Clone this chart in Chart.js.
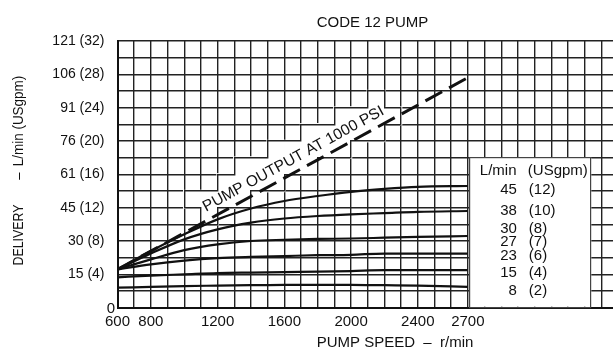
<!DOCTYPE html>
<html><head><meta charset="utf-8">
<script src="https://cdn.jsdelivr.net/npm/chart.js@4.4.1/dist/chart.umd.min.js"></script>
<style>html,body{margin:0;padding:0;background:#fff;overflow:hidden}#wrap{width:613px;height:349px;position:relative}</style>
</head><body><div id="wrap"><canvas id="c" width="613" height="349"></canvas></div>
<script>
// ---- data (USgpm vs r/min) ----
const speeds  = [600, 800, 1000, 1200, 1400, 1600, 1800, 2000, 2200, 2400, 2700];
const flow45  = [4.6, 6.8, 8.8, 10.6, 11.9, 12.8, 13.4, 13.9, 14.25, 14.5, 14.6];
const flow38  = [4.6, 6.5, 8.2, 9.4, 10.2, 10.7, 11.0, 11.2, 11.35, 11.5, 11.6];
const flow30  = [4.6, 5.8, 6.9, 7.6, 8.0, 8.15, 8.25, 8.3, 8.4, 8.5, 8.6];
const flow23  = [4.6, 5.2, 5.65, 5.95, 6.1, 6.2, 6.3, 6.35, 6.5, 6.5, 6.5];
const flow15  = [3.65, 3.85, 4.0, 4.15, 4.22, 4.28, 4.32, 4.4, 4.5, 4.5, 4.5];
const flow8   = [2.4, 2.5, 2.6, 2.65, 2.7, 2.75, 2.75, 2.75, 2.7, 2.65, 2.5];
const outputSpeeds = [600, 2700];
const output1000   = [4.6, 27.6];
const xTickLabels = [600, 800, 1200, 1600, 2000, 2400, 2700];
const yTickGpm = [4, 8, 12, 16, 20, 24, 28, 32];
const yTickLpm = [15, 30, 45, 61, 76, 91, 106, 121];
const legendLpm = ['45', '38', '30', '27', '23', '15', '8'];
const legendGpm = ['(12)', '(10)', '(8)', '(7)', '(6)', '(4)', '(2)'];
const chartTitle = 'CODE 12 PUMP';
const xTitle = 'PUMP SPEED  \u2013  r/min';
const curveLabel = 'PUMP OUTPUT AT 1000 PSI';

// ---- styling ----
const REG = '"Liberation Sans",Arial,Helvetica,sans-serif';
const INK = '#111';
const GRID = '#222';
const GRID_W = 1.4;

const pts = (xs, ys) => xs.map((v, i) => ({x: v, y: ys[i]}));
const solid = (data) => ({data, borderColor: INK, borderWidth: 2.2, pointRadius: 0, cubicInterpolationMode: 'monotone', fill: false});

function lineGeom(chart) {
  const {x, y} = chart.scales;
  const p1 = {x: x.getPixelForValue(outputSpeeds[0]), y: y.getPixelForValue(output1000[0])};
  const p2 = {x: x.getPixelForValue(outputSpeeds[1]), y: y.getPixelForValue(output1000[1])};
  const L = Math.hypot(p2.x - p1.x, p2.y - p1.y);
  const u = {x: (p2.x - p1.x) / L, y: (p2.y - p1.y) / L};
  const n = {x: u.y, y: -u.x}; // up-left normal
  const px = x.getPixelForValue(1690);
  const t = (px - p1.x) / u.x;
  const P = {x: p1.x + u.x * t, y: p1.y + u.y * t};
  const B = {x: P.x + n.x * 8, y: P.y + n.y * 8};
  return {u, n, B, angle: Math.atan2(u.y, u.x)};
}

function cellHits(x0, x1, y0, y1, c, u, n, hu, hv) {
  const ex = hu * Math.abs(u.x) + hv * Math.abs(n.x);
  if (c.x + ex < x0 || c.x - ex > x1) return false;
  const ey = hu * Math.abs(u.y) + hv * Math.abs(n.y);
  if (c.y + ey < y0 || c.y - ey > y1) return false;
  for (const [ax, h] of [[u, hu], [n, hv]]) {
    const cc = c.x * ax.x + c.y * ax.y;
    const ps = [[x0, y0], [x1, y0], [x0, y1], [x1, y1]].map(p => p[0] * ax.x + p[1] * ax.y);
    if (Math.max(...ps) < cc - h || Math.min(...ps) > cc + h) return false;
  }
  return true;
}
const align = (p, w) => Math.round(p - w / 2) + w / 2;
const LABEL_FONT = '15.5px ' + REG;

const annot = {
  id: 'annot',
  beforeDatasetsDraw(chart) {
    const {ctx, scales: {x, y}} = chart;
    const g = lineGeom(chart);
    ctx.save();
    ctx.font = LABEL_FONT;
    const w = ctx.measureText(curveLabel).width;
    ctx.restore();
    const c = {x: g.B.x + g.n.x * 5.5, y: g.B.y + g.n.y * 5.5};
    const hu = w / 2 + 1, hv = 7;
    const xs = x.ticks.map(t => t.value); xs.push(x.max);
    const ys = []; for (let v = 0; v <= 32; v += 2) ys.push(v);
    const er = {};
    for (let i = 0; i < xs.length - 1; i++) for (let j = 0; j < ys.length - 1; j++) {
      const x0 = x.getPixelForValue(xs[i]), x1 = x.getPixelForValue(xs[i + 1]);
      const y1 = y.getPixelForValue(ys[j]), y0 = y.getPixelForValue(ys[j + 1]);
      if (cellHits(x0, x1, y0, y1, c, g.u, g.n, hu, hv)) er[i + ',' + j] = [x0, x1, y0, y1];
    }
    ctx.save();
    ctx.fillStyle = '#fff';
    for (const k in er) { const [x0, x1, y0, y1] = er[k]; ctx.fillRect(x0 - 1.2, y0 - 1.2, x1 - x0 + 2.4, y1 - y0 + 2.4); }
    ctx.strokeStyle = GRID; ctx.lineWidth = GRID_W;
    ctx.beginPath();
    for (const k in er) {
      const [i, j] = k.split(',').map(Number);
      const [x0, x1, y0, y1] = er[k];
      const ax0 = align(x0, GRID_W), ax1 = align(x1, GRID_W), ay0 = align(y0, GRID_W), ay1 = align(y1, GRID_W);
      if (!er[(i - 1) + ',' + j]) { ctx.moveTo(ax0, ay0 - 0.7); ctx.lineTo(ax0, ay1 + 0.7); }
      if (!er[(i + 1) + ',' + j]) { ctx.moveTo(ax1, ay0 - 0.7); ctx.lineTo(ax1, ay1 + 0.7); }
      if (!er[i + ',' + (j - 1)]) { ctx.moveTo(ax0 - 0.7, ay1); ctx.lineTo(ax1 + 0.7, ay1); }
      if (!er[i + ',' + (j + 1)]) { ctx.moveTo(ax0 - 0.7, ay0); ctx.lineTo(ax1 + 0.7, ay0); }
    }
    ctx.stroke();
    ctx.restore();
  },
  afterDatasetsDraw(chart) {
    const {ctx, scales: {x, y}} = chart;
    const g = lineGeom(chart);
    ctx.save();
    // curve label
    ctx.fillStyle = INK;
    ctx.font = LABEL_FONT;
    ctx.translate(g.B.x, g.B.y); ctx.rotate(g.angle);
    ctx.textAlign = 'center'; ctx.textBaseline = 'alphabetic';
    ctx.fillText(curveLabel, 0, 0);
    ctx.restore();

    // legend box
    ctx.save();
    const bx0 = x.getPixelForValue(2712), bx1 = x.getPixelForValue(3440);
    const by0 = y.getPixelForValue(18), by1 = y.getPixelForValue(0);
    ctx.fillStyle = '#fff';
    ctx.fillRect(bx0, by0, bx1 - bx0, by1 - by0 - 1);
    ctx.strokeStyle = '#444'; ctx.lineWidth = 1.2;
    ctx.strokeRect(align(bx0, 1.2), align(by0, 1.2), Math.round(bx1 - bx0), Math.round(by1 - by0));
    ctx.fillStyle = INK;
    ctx.font = '15px ' + REG;
    ctx.textBaseline = 'middle';
    ctx.textAlign = 'left';
    ctx.fillText('L/min', bx0 + 10, by0 + 13.5);
    ctx.fillText('(USgpm)', bx0 + 58, by0 + 13.5);
    const rowsY = [31.8, 53.1, 71.3, 84.1, 98.3, 114.8, 133.1];
    legendLpm.forEach((s, i) => {
      ctx.textAlign = 'right'; ctx.fillText(s, bx0 + 47, by0 + rowsY[i]);
      ctx.textAlign = 'left'; ctx.fillText(legendGpm[i], bx0 + 59, by0 + rowsY[i]);
    });
    ctx.restore();

    // titles
    ctx.save();
    ctx.fillStyle = INK;
    ctx.font = '15px ' + REG;
    ctx.textAlign = 'center'; ctx.textBaseline = 'middle';
    ctx.fillText(chartTitle, 372.5, 23);
    ctx.fillText(xTitle, 395, 343);
    ctx.fillText('0', x.left - 6.5, y.getPixelForValue(0) + 1);
    // y-axis title, condensed along its reading direction
    ctx.translate(19, 0); ctx.rotate(-Math.PI / 2);
    ctx.font = '15.5px ' + REG;
    const drawCond = (s, cy, k) => { ctx.save(); ctx.translate(-cy, 0); ctx.scale(k, 1); ctx.fillText(s, 0, 0); ctx.restore(); };
    drawCond('DELIVERY', 235, 0.8);
    drawCond('\u2013', 176, 0.85);
    drawCond('L/min (USgpm)', 121, 0.87);
    ctx.restore();
  }
};

new Chart(document.getElementById('c'), {
  type: 'line',
  data: {
    datasets: [
      {data: pts(outputSpeeds, output1000), borderColor: INK, borderWidth: 3, borderDash: [19, 8], pointRadius: 0, tension: 0, fill: false},
      solid(pts(speeds, flow45)),
      solid(pts(speeds, flow38)),
      solid(pts(speeds, flow30)),
      solid(pts(speeds, flow23)),
      solid(pts(speeds, flow15)),
      solid(pts(speeds, flow8))
    ]
  },
  plugins: [annot],
  options: {
    responsive: false,
    animation: false,
    events: [],
    layout: {padding: {top: 41, right: 0, left: 0, bottom: 0}},
    plugins: {legend: {display: false}, tooltip: {enabled: false}, title: {display: false}},
    scales: {
      x: {
        type: 'linear', min: 600, max: 3570,
        afterBuildTicks(s) { const t = []; for (let v = 600; v <= 3500; v += 100) t.push({value: v}); s.ticks = t; },
        afterFit(s) { s.height = 41.3; },
        grid: {color: GRID, lineWidth: GRID_W, drawTicks: false},
        border: {display: true, color: INK, width: 2},
        ticks: {autoSkip: false, maxRotation: 0, padding: 5, color: INK, font: {family: REG, size: 15},
          callback: v => xTickLabels.includes(v) ? String(v) : ''}
      },
      y: {
        type: 'linear', min: 0, max: 32,
        afterFit(s) { s.width = 117.5; },
        grid: {color: GRID, lineWidth: GRID_W, drawTicks: false},
        border: {display: true, color: INK, width: 2},
        ticks: {stepSize: 2, autoSkip: false, padding: 13, color: INK, font: {family: REG, size: 14},
          callback: v => { const i = yTickGpm.indexOf(v); return i >= 0 ? `${yTickLpm[i]} (${v})` : ''; }}
      }
    }
  }
});
</script>
</body></html>
